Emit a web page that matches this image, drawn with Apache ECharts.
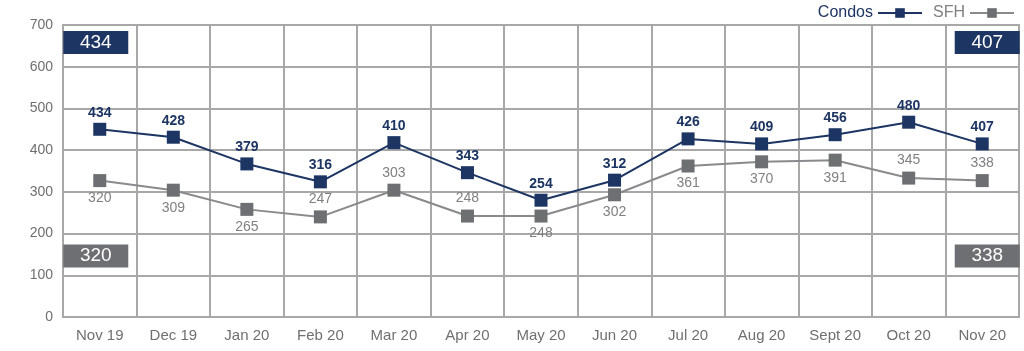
<!DOCTYPE html>
<html>
<head>
<meta charset="utf-8">
<script src="https://cdn.jsdelivr.net/npm/echarts@6/dist/echarts.min.js"></script>
<style>
  html, body { margin: 0; padding: 0; background: #fff; }
  #main { width: 1024px; height: 351px; }
</style>
</head>
<body>
<div id="main"></div>
<script>
// categories and values
var categories = ['Nov 19', 'Dec 19', 'Jan 20', 'Feb 20', 'Mar 20', 'Apr 20', 'May 20',
                  'Jun 20', 'Jul 20', 'Aug 20', 'Sept 20', 'Oct 20', 'Nov 20'];
// printed values
var condosLabels = [434, 428, 379, 316, 410, 343, 254, 312, 426, 409, 456, 480, 407];
var sfhLabels = [320, 309, 265, 247, 303, 248, 248, 302, 361, 370, 391, 345, 338];
// where the points are actually drawn on the picture
var condosPlotted = [450, 431, 367, 324, 418, 346, 280, 328, 427, 415, 437, 467, 415];
var sfhPlotted = [327, 304, 258, 240, 304, 242, 242, 293, 362, 372, 376, 333, 327];
var sfhLabelPos = ['bottom', 'bottom', 'bottom', 'top', 'top', 'top', 'bottom',
                   'bottom', 'bottom', 'bottom', 'bottom', 'top', 'top'];
var yTicks = [0, 100, 200, 300, 400, 500, 600, 700];

var navy = '#1d3562';
var gray = '#6e6f72';
var font = 'Liberation Sans, Arial, sans-serif';

var myChart = echarts.init(document.getElementById('main'));

var condosData = condosPlotted.map(function (v, i) {
    return { value: v, label: { formatter: String(condosLabels[i]) } };
});
var sfhData = sfhPlotted.map(function (v, i) {
    return { value: v, label: { position: sfhLabelPos[i], formatter: String(sfhLabels[i]) } };
});

var option = {
    animation: false,
    textStyle: { fontFamily: font },
    legend: {
        right: 4,
        top: 0,
        align: 'right',
        itemWidth: 44,
        itemHeight: 12,
        itemGap: 10,
        data: [
            { name: 'Condos', textStyle: { color: navy, fontSize: 16 } },
            { name: 'SFH', textStyle: { color: '#808080', fontSize: 16 } }
        ]
    },
    grid: {
        left: 63,
        right: 5,
        top: 25,
        bottom: 34,
        show: true,
        borderColor: '#a8a8a8',
        borderWidth: 2
    },
    xAxis: {
        type: 'category',
        data: categories,
        boundaryGap: true,
        axisLine: { show: false },
        axisTick: { show: false },
        splitLine: { show: true, lineStyle: { color: '#a8a8a8', width: 2 } },
        axisLabel: { color: '#6f6f6f', fontSize: 15, margin: 11, interval: 0 }
    },
    yAxis: {
        type: 'value',
        min: yTicks[0],
        max: yTicks[yTicks.length - 1],
        interval: 100,
        axisLine: { show: false },
        axisTick: { show: false },
        splitLine: { lineStyle: { color: '#a8a8a8', width: 2 } },
        axisLabel: { color: '#6f6f6f', fontSize: 14, margin: 10, padding: [0, 0, 10, 0] }
    },
    series: [
        {
            name: 'Condos',
            type: 'line',
            data: condosData,
            symbol: 'rect',
            symbolSize: 13,
            itemStyle: { color: navy },
            lineStyle: { color: navy, width: 2 },
            label: {
                show: true,
                position: 'top',
                distance: 3,
                color: navy,
                fontSize: 14,
                fontWeight: 'bold'
            },
            markPoint: {
                symbol: 'rect',
                symbolSize: [65, 23],
                itemStyle: { color: navy },
                label: { show: true, position: 'inside', color: '#fff', fontSize: 19, formatter: '{c}' },
                data: [
                    { coord: [categories[0], 658], value: condosLabels[0], symbolOffset: [-4, 0] },
                    { coord: [categories[12], 658], value: condosLabels[12], symbolOffset: [5, 0] }
                ]
            }
        },
        {
            name: 'SFH',
            type: 'line',
            data: sfhData,
            symbol: 'rect',
            symbolSize: 13,
            itemStyle: { color: gray },
            lineStyle: { color: '#8a8a8c', width: 2 },
            label: {
                show: true,
                distance: 4,
                color: '#808080',
                fontSize: 14
            },
            markPoint: {
                symbol: 'rect',
                symbolSize: [65, 23],
                itemStyle: { color: gray },
                label: { show: true, position: 'inside', color: '#fff', fontSize: 19, formatter: '{c}' },
                data: [
                    { coord: [categories[0], 146], value: sfhLabels[0], symbolOffset: [-4, 0] },
                    { coord: [categories[12], 146], value: sfhLabels[12], symbolOffset: [5, 0] }
                ]
            }
        }
    ]
};
myChart.setOption(option);
</script>
</body>
</html>
